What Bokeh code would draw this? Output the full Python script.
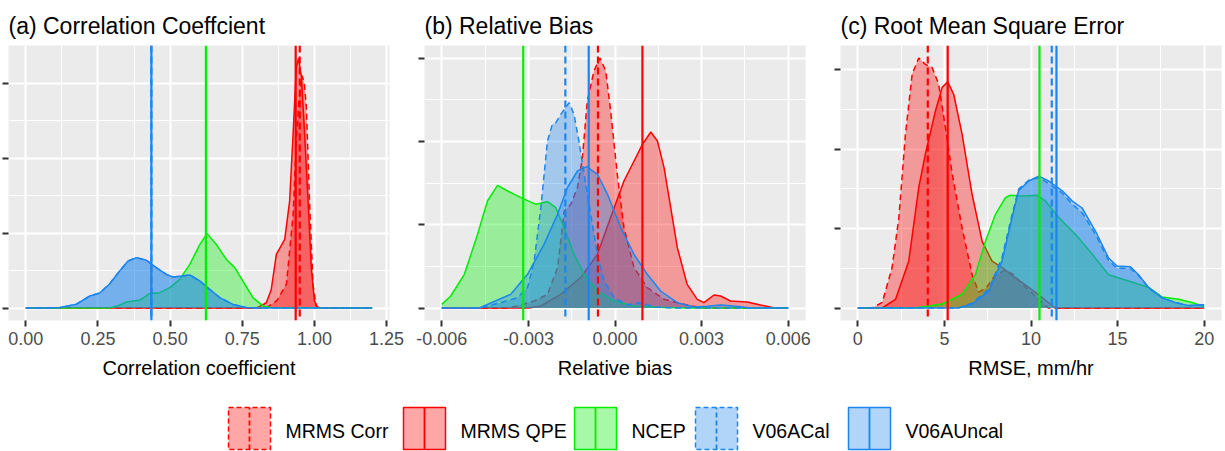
from bokeh.plotting import figure
from bokeh.layouts import column, row
from bokeh.models import Range1d, FixedTicker, Span
from bokeh.core.properties import value
from bokeh.embed import file_html
from bokeh.resources import INLINE

# ---------------- data ----------------
SERIES = ["MRMS Corr", "MRMS QPE", "NCEP", "V06ACal", "V06AUncal"]
COLORS = ["#FF0000", "#FF0000", "#00EE00", "#1C86EE", "#1C86EE"]
DASHED = [True, False, False, True, False]

# (a) Correlation coefficient densities
A_CORR_X = [0.0, 0.82, 0.84, 0.87, 0.903, 0.926, 0.937, 0.946, 0.957, 0.965, 0.972, 0.983, 0.995, 1.006, 1.02, 1.2]
A_CORR_Y = [0, 0, 0.1, 0.5, 1.6, 6.2, 11.1, 13.8, 15.5, 15.0, 13.4, 7.1, 1.6, 0.1, 0, 0]
A_QPE_X = [0.0, 0.80, 0.82, 0.833, 0.85, 0.868, 0.897, 0.914, 0.926, 0.937, 0.945, 0.955, 0.966, 0.978, 0.989, 1.0, 1.012, 1.2]
A_QPE_Y = [0, 0, 0.2, 0.35, 1.2, 3.58, 4.58, 7.13, 11.6, 16.0, 16.67, 15.4, 11.6, 7.1, 2.7, 0.47, 0, 0]
A_NCEP_X = [0.0, 0.29, 0.32, 0.349, 0.395, 0.429, 0.464, 0.499, 0.533, 0.568, 0.603, 0.628, 0.66, 0.695, 0.724, 0.752, 0.787, 0.822, 0.857, 1.2]
A_NCEP_Y = [0, 0, 0.15, 0.4, 0.53, 0.96, 1.02, 1.36, 1.91, 2.91, 4.24, 4.96, 4.24, 3.24, 2.69, 1.8, 0.69, 0.13, 0, 0]
A_CAL_X = [0.0, 0.06, 0.118, 0.175, 0.222, 0.256, 0.29, 0.325, 0.354, 0.383, 0.418, 0.452, 0.487, 0.51, 0.539, 0.568, 0.603, 0.637, 0.672, 0.718, 0.764, 0.8, 1.2]
A_CAL_Y = [0, 0, 0.03, 0.25, 0.8, 1.0, 1.6, 2.47, 3.13, 3.36, 3.18, 2.69, 2.24, 2.07, 2.13, 2.2, 1.8, 1.24, 0.69, 0.24, 0.03, 0, 0]
A_UNCAL_X = [0.0, 0.06, 0.118, 0.175, 0.222, 0.256, 0.29, 0.325, 0.354, 0.383, 0.418, 0.452, 0.487, 0.51, 0.539, 0.568, 0.603, 0.637, 0.672, 0.718, 0.764, 0.8, 1.2]
A_UNCAL_Y = [0, 0, 0.03, 0.25, 0.8, 1.0, 1.6, 2.47, 3.13, 3.36, 3.18, 2.69, 2.24, 2.07, 2.13, 2.2, 1.8, 1.24, 0.69, 0.24, 0.03, 0, 0]
A_MEANS = [0.949, 0.935, 0.624, 0.435, 0.435]

# (b) Relative bias densities
B_CORR_X = [-0.006, -0.0038, -0.00338, -0.0028, -0.00234, -0.00199, -0.00176, -0.00153, -0.0013, -0.00113, -0.00096, -0.00073, -0.00052, -0.00032, -0.00015, 0.00008, 0.00031, 0.00066, 0.00112, 0.0017, 0.0024, 0.003, 0.006]
B_CORR_Y = [0, 0, 6, 21, 41, 121, 291, 311, 361, 451, 621, 711, 750, 711, 591, 401, 241, 121, 61, 26, 11, 0, 0]
B_QPE_X = [-0.006, -0.003, -0.00257, -0.00188, -0.00119, -0.00061, -0.00003, 0.00031, 0.00066, 0.00095, 0.00124, 0.00147, 0.0017, 0.00193, 0.00216, 0.0025, 0.00285, 0.00308, 0.00343, 0.00366, 0.004, 0.00458, 0.00504, 0.0055, 0.006]
B_QPE_Y = [0, 0, 6, 41, 91, 161, 301, 381, 441, 491, 528, 501, 421, 301, 181, 71, 26, 16, 39, 36, 21, 18, 9, 1, 0]
B_NCEP_X = [-0.006, -0.00569, -0.00522, -0.00476, -0.00442, -0.00407, -0.00372, -0.00326, -0.00274, -0.00234, -0.00205, -0.00176, -0.00142, -0.00107, -0.00061, -0.00003, 0.00066, 0.0014, 0.0025, 0.006]
B_NCEP_Y = [11, 36, 101, 221, 321, 368, 351, 331, 311, 319, 301, 241, 161, 101, 51, 21, 6, 2, 0, 0]
B_CAL_X = [-0.006, -0.0047, -0.00396, -0.00338, -0.00303, -0.0028, -0.00257, -0.00234, -0.00217, -0.00205, -0.00188, -0.00159, -0.00142, -0.00125, -0.00107, -0.00084, -0.00061, -0.00038, -0.00003, 0.00043, 0.00083, 0.0014, 0.002, 0.006]
B_CAL_Y = [0, 0, 16, 31, 61, 141, 301, 501, 551, 556, 581, 616, 581, 501, 401, 281, 161, 81, 31, 9, 16, 3, 0, 0]
B_UNCAL_X = [-0.006, -0.0047, -0.00361, -0.00303, -0.00246, -0.00199, -0.00165, -0.0013, -0.00098, -0.00061, -0.00026, 0.0002, 0.00066, 0.00112, 0.00158, 0.00216, 0.00274, 0.0032, 0.00366, 0.0042, 0.0047, 0.006]
B_UNCAL_Y = [0, 0, 41, 101, 191, 281, 361, 411, 424, 401, 341, 241, 161, 101, 51, 16, 3, 5, 9, 5, 0, 0]
B_MEANS = [-0.00059, 0.00095, -0.00318, -0.00172, -0.00091]

# (c) RMSE densities
C_CORR_X = [0, 0.83, 1.41, 1.98, 2.37, 2.75, 3.14, 3.52, 3.9, 4.29, 4.67, 5.06, 5.45, 6.02, 6.6, 6.98, 7.4, 7.9, 8.5, 9.0, 9.49, 10.25, 11.0, 20]
C_CORR_Y = [0, 0, 0.007, 0.051, 0.114, 0.219, 0.295, 0.315, 0.307, 0.303, 0.282, 0.227, 0.169, 0.101, 0.042, 0.02, 0.025, 0.04, 0.048, 0.042, 0.03, 0.015, 0, 0]
C_QPE_X = [0, 1.4, 2.18, 2.94, 3.52, 3.9, 4.48, 4.87, 5.19, 5.54, 6.02, 6.6, 7.18, 7.75, 8.4, 9.1, 9.87, 10.64, 11.4, 20]
C_QPE_Y = [0, 0, 0.011, 0.059, 0.152, 0.194, 0.248, 0.278, 0.285, 0.269, 0.219, 0.143, 0.084, 0.059, 0.05, 0.038, 0.026, 0.013, 0, 0]
C_NCEP_X = [0, 3.3, 4.87, 6.02, 6.79, 7.37, 7.95, 8.52, 8.81, 9.49, 10.35, 10.83, 11.6, 12.56, 13.53, 14.48, 15.64, 16.79, 17.56, 18.52, 19.3, 20]
C_NCEP_Y = [0, 0, 0.005, 0.017, 0.042, 0.084, 0.118, 0.139, 0.142, 0.141, 0.142, 0.135, 0.114, 0.093, 0.068, 0.042, 0.034, 0.026, 0.014, 0.011, 0.007, 0.002]
C_CAL_X = [0, 5.8, 6.6, 7.56, 8.33, 8.91, 9.29, 9.87, 10.45, 11.02, 11.79, 12.37, 12.95, 13.72, 14.48, 14.97, 15.74, 16.21, 16.79, 17.56, 18.33, 19.1, 19.87, 20]
C_CAL_Y = [0, 0, 0.006, 0.024, 0.064, 0.118, 0.15, 0.161, 0.164, 0.157, 0.145, 0.131, 0.12, 0.093, 0.06, 0.05, 0.05, 0.041, 0.025, 0.013, 0.007, 0.003, 0.004, 0.004]
C_UNCAL_X = [0, 5.8, 6.6, 7.56, 8.33, 8.91, 9.29, 9.87, 10.45, 11.02, 11.79, 12.37, 12.95, 13.72, 14.48, 14.97, 15.74, 16.21, 16.79, 17.56, 18.33, 19.1, 19.87, 20]
C_UNCAL_Y = [0, 0, 0.005, 0.021, 0.059, 0.114, 0.148, 0.16, 0.166, 0.16, 0.148, 0.135, 0.126, 0.097, 0.063, 0.053, 0.052, 0.042, 0.026, 0.013, 0.007, 0.003, 0.004, 0.004]
C_MEANS = [4.04, 5.19, 10.49, 11.2, 11.47]

A_XTICKS = [0.0, 0.25, 0.5, 0.75, 1.0, 1.25]
A_XLABELS = ["0.00", "0.25", "0.50", "0.75", "1.00", "1.25"]
B_XTICKS = [-0.006, -0.003, 0.0, 0.003, 0.006]
B_XLABELS = ["-0.006", "-0.003", "0.000", "0.003", "0.006"]
C_XTICKS = [0, 5, 10, 15, 20]
C_XLABELS = ["0", "5", "10", "15", "20"]

A_YTICKS = [0, 5, 10, 15]
B_YTICKS = [0, 250, 500, 750]
C_YTICKS = [0, 0.1, 0.2, 0.3]

FONT = "Liberation Sans"
FILL_ALPHA = 0.35


def minors(ticks):
    return [(a + b) / 2 for a, b in zip(ticks[:-1], ticks[1:])]


def panel(title, xlabel, xs, ys, means, xticks, xlabels, yticks, width, mbl, mbr):
    xmin = min(min(x) for x in xs)
    xmax = max(max(x) for x in xs)
    ymax = max(max(y) for y in ys)
    xpad = 0.05 * (xmax - xmin)
    p = figure(width=width, height=385,
               x_range=Range1d(xmin - xpad, xmax + xpad),
               y_range=Range1d(-0.05 * ymax, 1.05 * ymax),
               output_backend="svg", toolbar_location=None,
               min_border_left=mbl, min_border_right=mbr,
               min_border_top=45, min_border_bottom=65,
               background_fill_color="#EBEBEB", border_fill_color="white",
               outline_line_color=None)
    p.title.text = title
    p.title.text_font = FONT
    p.title.text_font_size = "23px"
    p.title.text_font_style = "normal"
    p.title.text_color = "black"
    p.title.standoff = 13
    p.title.offset = 0

    # grids
    p.xgrid.ticker = FixedTicker(ticks=xticks, minor_ticks=minors(xticks))
    p.ygrid.ticker = FixedTicker(ticks=yticks, minor_ticks=minors(yticks))
    for g in (p.xgrid, p.ygrid):
        g.grid_line_color = "white"
        g.grid_line_width = 2
        g.minor_grid_line_color = "white"
        g.minor_grid_line_width = 1

    # x axis
    xa = p.xaxis[0]
    xa.ticker = FixedTicker(ticks=xticks)
    xa.major_label_overrides = {t: l for t, l in zip(xticks, xlabels)}
    xa.axis_line_color = None
    xa.major_tick_line_color = "#333333"
    xa.major_tick_line_width = 2
    xa.major_tick_out = 6
    xa.major_tick_in = 0
    xa.minor_tick_out = 0
    xa.minor_tick_in = 0
    xa.major_label_text_font = FONT
    xa.major_label_text_font_size = "18px"
    xa.major_label_text_color = "#4D4D4D"
    xa.major_label_standoff = 5
    xa.axis_label = xlabel
    xa.axis_label_text_font = FONT
    xa.axis_label_text_font_size = "20px"
    xa.axis_label_text_font_style = "normal"
    xa.axis_label_text_color = "black"
    xa.axis_label_standoff = 9

    # y axis: tick marks only, no labels
    ya = p.yaxis[0]
    ya.ticker = FixedTicker(ticks=yticks)
    ya.axis_line_color = None
    ya.major_tick_line_color = "#333333"
    ya.major_tick_line_width = 2
    ya.major_tick_out = 6
    ya.major_tick_in = 0
    ya.minor_tick_out = 0
    ya.minor_tick_in = 0
    ya.major_label_text_font_size = "1px"
    ya.major_label_text_color = None
    ya.major_label_standoff = 0

    for x, y, c, d in zip(xs, ys, COLORS, DASHED):
        p.varea(x=x, y1=[0] * len(x), y2=y, fill_color=c, fill_alpha=FILL_ALPHA)
        p.line(x=x, y=y, line_color=c, line_width=1.5,
               line_dash="6 4" if d else "solid")
    for m, c, d in zip(means, COLORS, DASHED):
        p.add_layout(Span(location=m, dimension="height", line_color=c,
                          line_width=2.2, line_dash="7 4" if d else "solid"))
    return p


pa = panel("(a) Correlation Coeffcient", "Correlation coefficient",
           [A_CORR_X, A_QPE_X, A_NCEP_X, A_CAL_X, A_UNCAL_X],
           [A_CORR_Y, A_QPE_Y, A_NCEP_Y, A_CAL_Y, A_UNCAL_Y],
           A_MEANS, A_XTICKS, A_XLABELS, A_YTICKS, 406, 8, 17)
pb = panel("(b) Relative Bias", "Relative bias",
           [B_CORR_X, B_QPE_X, B_NCEP_X, B_CAL_X, B_UNCAL_X],
           [B_CORR_Y, B_QPE_Y, B_NCEP_Y, B_CAL_Y, B_UNCAL_Y],
           B_MEANS, B_XTICKS, B_XLABELS, B_YTICKS, 416, 18, 17)
pc = panel("(c) Root Mean Square Error", "RMSE, mm/hr",
           [C_CORR_X, C_QPE_X, C_NCEP_X, C_CAL_X, C_UNCAL_X],
           [C_CORR_Y, C_QPE_Y, C_NCEP_Y, C_CAL_Y, C_UNCAL_Y],
           C_MEANS, C_XTICKS, C_XLABELS, C_YTICKS, 403, 18, 4)

# ---------------- legend ----------------
KEY_LEFT = [228, 403, 574, 695, 848]
KEY_W = 42
leg = figure(width=1225, height=66, x_range=Range1d(0, 1225), y_range=Range1d(0, 66),
             output_backend="svg", toolbar_location=None,
             x_axis_location=None, y_axis_location=None,
             min_border=0, outline_line_color=None,
             background_fill_color="white", border_fill_color="white")
leg.xgrid.visible = False
leg.ygrid.visible = False
for name, c, d, kl in zip(SERIES, COLORS, DASHED, KEY_LEFT):
    dash = "5 3" if d else "solid"
    leg.quad(left=[kl], right=[kl + KEY_W], bottom=[2], top=[44],
             fill_color=c, fill_alpha=FILL_ALPHA, line_color=c, line_width=1.5,
             line_dash=dash)
    leg.line(x=[kl + KEY_W / 2, kl + KEY_W / 2], y=[2, 44], line_color=c,
             line_width=1.8, line_dash=dash)
    leg.text(x=[kl + KEY_W + 15], y=[21], text=[name], text_font=value(FONT),
             text_font_size="19.5px", text_baseline="middle", text_align="left",
             text_color="black")

layout = column(row(pa, pb, pc), leg)
open("out.html", "w").write(file_html(layout, INLINE))
